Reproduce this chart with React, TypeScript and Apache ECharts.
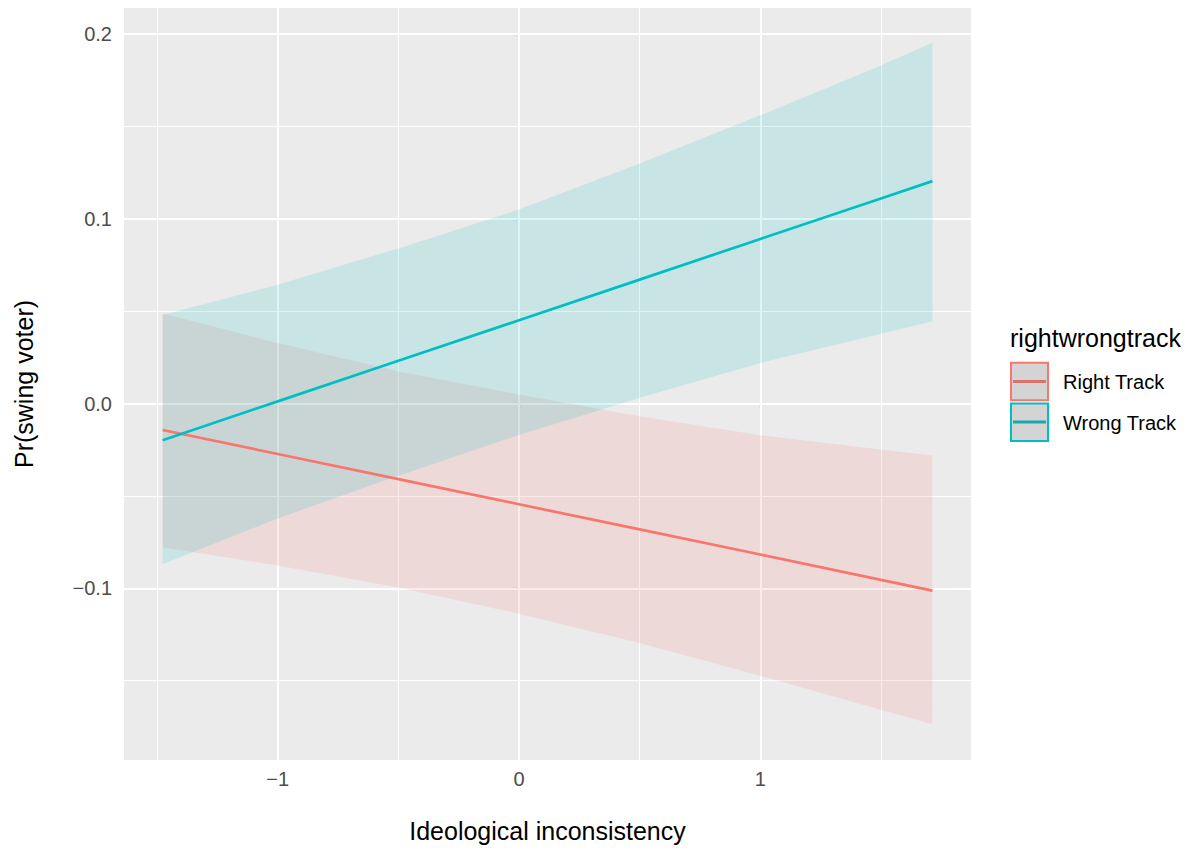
import React, { useEffect, useRef } from "react";
import * as echarts from "echarts";

// ---- data ----
const xVals = [-1.477, -1, -0.5, 0, 0.5, 1, 1.5, 1.713];
const rightFit = [-0.0143, -0.0273, -0.0409, -0.0545, -0.0681, -0.0817, -0.0954, -0.1012];
const rightLower = [-0.0778, -0.0876, -0.0996, -0.1137, -0.1296, -0.1473, -0.1657, -0.1735];
const rightUpper = [0.0488, 0.0328, 0.0174, 0.0049, -0.0069, -0.0172, -0.0248, -0.0281];
const wrongFit = [-0.0198, 0.0012, 0.0232, 0.0451, 0.0671, 0.0891, 0.111, 0.1204];
const wrongLower = [-0.0869, -0.0622, -0.039, -0.017, 0.0032, 0.022, 0.0378, 0.0446];
const wrongUpper = [0.0479, 0.0643, 0.084, 0.105, 0.13, 0.156, 0.183, 0.1953];

const xTicks = [-1, 0, 1];
const xMinor = [-1.5, -0.5, 0.5, 1.5];
const yTicks = [-0.1, 0, 0.1, 0.2];
const yMinor = [-0.15, -0.05, 0.05, 0.15];
const groups = ["Right Track", "Wrong Track"];

const FONT = '"Liberation Sans", Arial, Helvetica, sans-serif';
const RED = "#F8766D";
const TEAL = "#00BFC4";

const fmt = (v: number, d: number) => {
  const s = Math.abs(v).toFixed(d);
  return v < -1e-9 ? "\u2212" + s : s;
};

function ribbon(name: string, lower: number[], upper: number[], fill: string) {
  return {
    type: "custom",
    name,
    z: 2,
    silent: true,
    data: xVals.map((x, i) => [x, lower[i], upper[i]]),
    encode: { x: 0, y: [1, 2] },
    renderItem: (params: any, api: any) => {
      if (params.dataIndex !== 0) return { type: "group", children: [] };
      const pts: number[][] = [];
      for (let i = 0; i < xVals.length; i++) pts.push(api.coord([xVals[i], upper[i]]));
      for (let i = xVals.length - 1; i >= 0; i--) pts.push(api.coord([xVals[i], lower[i]]));
      return { type: "polygon", shape: { points: pts }, style: { fill } };
    },
  };
}

function fitLine(name: string, fit: number[], color: string, extra: any = {}) {
  return {
    type: "line",
    name,
    z: 2,
    silent: true,
    symbol: "none",
    data: xVals.map((x, i) => [x, fit[i]]),
    lineStyle: { color, width: 2.7 },
    itemStyle: { color },
    ...extra,
  };
}

export default function App() {
  const ref = useRef<HTMLDivElement>(null);
  useEffect(() => {
    if (!ref.current) return;
    const chart = echarts.init(ref.current, null, { renderer: "svg" });
    const gridData: any[] = [
      ...xTicks.map((v) => ({ xAxis: v, lineStyle: { width: 2 } })),
      ...xMinor.map((v) => ({ xAxis: v, lineStyle: { width: 1 } })),
      ...yTicks.map((v) => ({ yAxis: v, lineStyle: { width: 2 } })),
      ...yMinor.map((v) => ({ yAxis: v, lineStyle: { width: 1 } })),
    ];
    chart.setOption({
      animation: false,
      backgroundColor: "#FFFFFF",
      grid: {
        left: 124,
        top: 8,
        width: 847,
        height: 752,
        show: true,
        backgroundColor: "#EBEBEB",
        borderWidth: 0,
        containLabel: false,
        outerBoundsMode: "none",
      },
      xAxis: {
        type: "value",
        min: -1.637,
        max: 1.873,
        name: "Ideological inconsistency",
        nameLocation: "middle",
        nameGap: 58,
        nameTextStyle: { fontFamily: FONT, fontSize: 25, color: "#000000" },
        axisLine: { show: false },
        splitLine: { show: false },
        axisTick: {
          show: true,
          length: 6,
          customValues: xTicks,
          lineStyle: { color: "#333333", width: 1.1 },
        },
        axisLabel: {
          customValues: xTicks,
          formatter: (v: number) => fmt(v, 0),
          color: "#4D4D4D",
          fontFamily: FONT,
          fontSize: 20,
          margin: 9,
        },
      },
      yAxis: {
        type: "value",
        min: -0.1929,
        max: 0.2141,
        name: "Pr(swing voter)",
        nameLocation: "middle",
        nameGap: 88,
        nameRotate: 90,
        nameTextStyle: { fontFamily: FONT, fontSize: 25, color: "#000000" },
        axisLine: { show: false },
        splitLine: { show: false },
        axisTick: {
          show: true,
          length: 6,
          customValues: yTicks,
          lineStyle: { color: "#333333", width: 1.1 },
        },
        axisLabel: {
          customValues: yTicks,
          formatter: (v: number) => fmt(v, 1),
          color: "#4D4D4D",
          fontFamily: FONT,
          fontSize: 20,
          margin: 12,
        },
      },
      series: [
        ribbon(groups[0] + " band", rightLower, rightUpper, "rgba(248,118,109,0.15)"),
        fitLine(groups[0], rightFit, RED, {
          markLine: {
            silent: true,
            z: 1,
            symbol: ["none", "none"],
            label: { show: false },
            emphasis: { disabled: true },
            lineStyle: { color: "#FFFFFF", type: "solid" },
            data: gridData,
          },
        }),
        ribbon(groups[1] + " band", wrongLower, wrongUpper, "rgba(0,191,196,0.15)"),
        fitLine(groups[1], wrongFit, TEAL),
      ],
      graphic: [
        {
          type: "text",
          x: 1010,
          y: 338,
          style: {
            text: "rightwrongtrack",
            font: `25px ${FONT}`,
            fill: "#000000",
            align: "left",
            verticalAlign: "middle",
          },
        },
        {
          type: "rect",
          shape: { x: 1011, y: 362.7, width: 37, height: 37.5 },
          style: { fill: "#D4D4D4", stroke: RED, lineWidth: 2 },
        },
        {
          type: "line",
          shape: { x1: 1013, y1: 381.5, x2: 1046, y2: 381.5 },
          style: { stroke: "#D9736C", lineWidth: 3 },
        },
        {
          type: "rect",
          shape: { x: 1011, y: 403.5, width: 37, height: 37.5 },
          style: { fill: "#D4D4D4", stroke: TEAL, lineWidth: 2 },
        },
        {
          type: "line",
          shape: { x1: 1013, y1: 422, x2: 1046, y2: 422 },
          style: { stroke: "#17A9AC", lineWidth: 3 },
        },
        {
          type: "text",
          x: 1063,
          y: 382,
          style: {
            text: groups[0],
            font: `20px ${FONT}`,
            fill: "#000000",
            align: "left",
            verticalAlign: "middle",
          },
        },
        {
          type: "text",
          x: 1063,
          y: 423,
          style: {
            text: groups[1],
            font: `20px ${FONT}`,
            fill: "#000000",
            align: "left",
            verticalAlign: "middle",
          },
        },
      ],
    });
    return () => chart.dispose();
  }, []);
  return (
    <div
      ref={ref}
      style={{ position: "fixed", left: 0, top: 0, width: 1195, height: 854, background: "#fff" }}
    />
  );
}
